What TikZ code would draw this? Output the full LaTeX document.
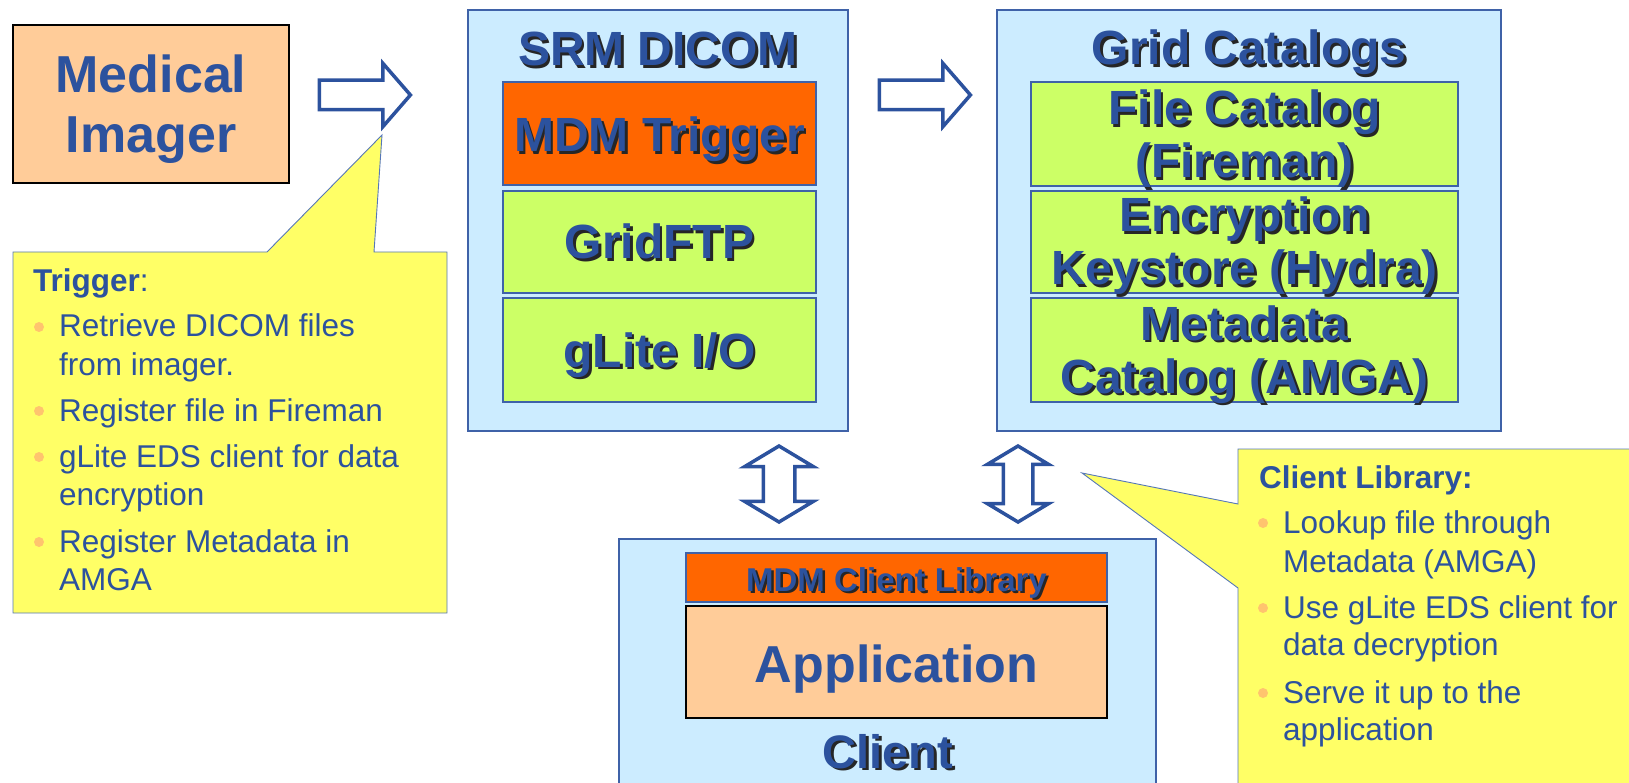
\documentclass[tikz,border=0pt]{standalone}
\usepackage{fontspec}
\setmainfont{Liberation Sans}
\usepackage{tikz}
\usetikzlibrary{positioning}
\usetikzlibrary{shapes.arrows}

\definecolor{textblue}{HTML}{2C529E}
\definecolor{boxline}{HTML}{3F62A8}
\definecolor{paleblue}{HTML}{CCECFF}
\definecolor{layergreen}{HTML}{CCFF66}
\definecolor{hotorange}{HTML}{FF6600}
\definecolor{peach}{HTML}{FFCC99}
\definecolor{noteyellow}{HTML}{FFFF66}
\definecolor{noteline}{HTML}{5677B8}
\definecolor{bulletc}{HTML}{FFC46E}

% text with a dark drop shadow
\newcommand{\sh}[1]{\leavevmode\rlap{\kern2.5pt\raisebox{-2.5pt}{\textcolor{black!85}{#1}}}#1}

\begin{document}
\begin{tikzpicture}
[
x=1pt, y=-1pt,
panel-a/.style={draw=boxline, fill=paleblue, line width=1.6pt, inner sep=0, outer sep=0},
layer-a/.style={draw=boxline, fill=layergreen, line width=1.4pt, inner sep=0, outer sep=0},
hot-a/.style={draw=boxline, fill=hotorange, line width=1.4pt, inner sep=0, outer sep=0},
peach-a/.style={draw=black, fill=peach, line width=1.6pt, inner sep=0, outer sep=0},
note-a/.style={draw=noteline, fill=noteyellow, line width=0.9pt},
title-a/.style={text=textblue, inner sep=0, anchor=base, font=\bfseries\fontsize{48}{50}\selectfont},
big-a/.style={text=textblue, inner sep=0, anchor=base, font=\bfseries\fontsize{52}{54}\selectfont},
body-a/.style={text=textblue, inner sep=0, anchor=base west, font=\fontsize{31.5}{36}\selectfont},
dot-a/.style={circle, fill=bulletc, minimum size=10, inner sep=0},
fat-arrow/.style={single arrow, draw=textblue, fill=white, line width=3.5pt,
  minimum height=91, minimum width=60, inner xsep=0, inner ysep=13,
  single arrow head extend=17, single arrow tip angle=98},
fat-double/.style={double arrow, draw=textblue, fill=white, line width=3.5pt,
  rotate=90, minimum height=76, inner xsep=0, double arrow tip angle=118},
]
\clip (0,0) rectangle (1629,783);

% source
\node (imager) [peach-a, minimum width=276, minimum height=158] at (151,104) {};
\node (im1) [big-a] at (151,93)  {Medical};
\node (im2) [big-a] at (151,153) {Imager};

% SRM DICOM
\node (srm)     [panel-a, minimum width=380, minimum height=421] at (658,220.5) {};
\node (srmt)    [title-a] at (658,66) {\sh{SRM DICOM}};
\node (mdmtrig) [hot-a,   minimum width=313, minimum height=103] at (659.5,133.5) {};
\node (gridftp) [layer-a, minimum width=313, minimum height=102, below = 6pt of mdmtrig] {};
\node (glite)   [layer-a, minimum width=313, minimum height=104, below = 5pt of gridftp] {};
\node (mdmt)    [title-a] at (659.5,152) {\sh{MDM Trigger}};
\node (ftpt)    [title-a] at (659.5,259) {\sh{GridFTP}};
\node (glt)     [title-a] at (659.5,367) {\sh{gLite I/O}};

% Grid Catalogs
\node (grid)     [panel-a, minimum width=504, minimum height=421] at (1249,220.5) {};
\node (gridt)    [title-a] at (1249,65) {\sh{Grid Catalogs}};
\node (filecat)  [layer-a, minimum width=427, minimum height=104] at (1244.5,134) {};
\node (keystore) [layer-a, minimum width=427, minimum height=102, below = 5pt of filecat] {};
\node (metacat)  [layer-a, minimum width=427, minimum height=104, below = 5pt of keystore] {};
\node (fc1) [title-a] at (1244.5,125) {\sh{File Catalog}};
\node (fc2) [title-a] at (1244.5,178) {\sh{(Fireman)}};
\node (ks1) [title-a] at (1244.5,232) {\sh{Encryption}};
\node (ks2) [title-a] at (1244.5,285) {\sh{Keystore (Hydra)}};
\node (mc1) [title-a] at (1244.5,340) {\sh{Metadata}};
\node (mc2) [title-a] at (1244.5,393) {\sh{Catalog (AMGA)}};

% Client
\node (client)    [panel-a, minimum width=537, minimum height=256] at (887.5,667) {};
\node (clientlib) [hot-a, minimum width=421, minimum height=49] at (896.5,577.5) {};
\node (app)       [peach-a, minimum width=421, minimum height=112, below = 4pt of clientlib] {};
\node (libt) [title-a, font=\bfseries\fontsize{33}{35}\selectfont] at (896.5,591) {\sh{MDM Client Library}};
\node (appt) [big-a] at (896.5,682) {Application};
\node (clt)  [title-a, font=\bfseries\fontsize{47}{49}\selectfont] at (888,768) {\sh{Client}};

% block arrows
\node (arr1) [fat-arrow] at (358.5,95) {};
\node (arr2) [fat-arrow] at (918.5,95) {};
\node (dbl1) [fat-double, minimum width=65, inner ysep=14, double arrow head extend=18.5] at (779,484) {};
\node (dbl2) [fat-double, minimum width=58, inner ysep=13, double arrow head extend=16] at (1018,484) {};

% trigger note
\coordinate (tipT) at (382,135);
\filldraw [note-a] (13,252) -- (267,252) -- (tipT) -- (374,252) -- (447,252)
  -- (447,613) -- (13,613) -- cycle;
\node (th) [body-a] at (33,292) {\textbf{Trigger}:};
\node (d1) [dot-a] at (39,327) {};
\node (t1) [body-a] at (59,337) {Retrieve DICOM files};
\node (t2) [body-a] at (59,375) {from imager.};
\node (d2) [dot-a] at (39,411) {};
\node (t3) [body-a] at (59,421) {Register file in Fireman};
\node (d3) [dot-a] at (39,457) {};
\node (t4) [body-a] at (59,467) {gLite EDS client for data};
\node (t5) [body-a] at (59,505) {encryption};
\node (d4) [dot-a] at (39,542) {};
\node (t6) [body-a] at (59,552) {Register Metadata in};
\node (t7) [body-a] at (59,590) {AMGA};

% client library note
\coordinate (tipC) at (1082,473);
\filldraw [note-a] (1238,504) -- (1238,449) -- (1645,449) -- (1645,800)
  -- (1238,800) -- (1238,588) -- (tipC) -- cycle;
\node (ch) [body-a] at (1259,488) {\textbf{Client Library:}};
\node (e1) [dot-a] at (1263,523) {};
\node (c1) [body-a] at (1283,533) {Lookup file through};
\node (c2) [body-a] at (1283,572) {Metadata (AMGA)};
\node (e2) [dot-a] at (1263,608) {};
\node (c3) [body-a] at (1283,618) {Use gLite EDS client for};
\node (c4) [body-a] at (1283,655) {data decryption};
\node (e3) [dot-a] at (1263,693) {};
\node (c5) [body-a] at (1283,703) {Serve it up to the};
\node (c6) [body-a] at (1283,740) {application};
\end{tikzpicture}
\end{document}
